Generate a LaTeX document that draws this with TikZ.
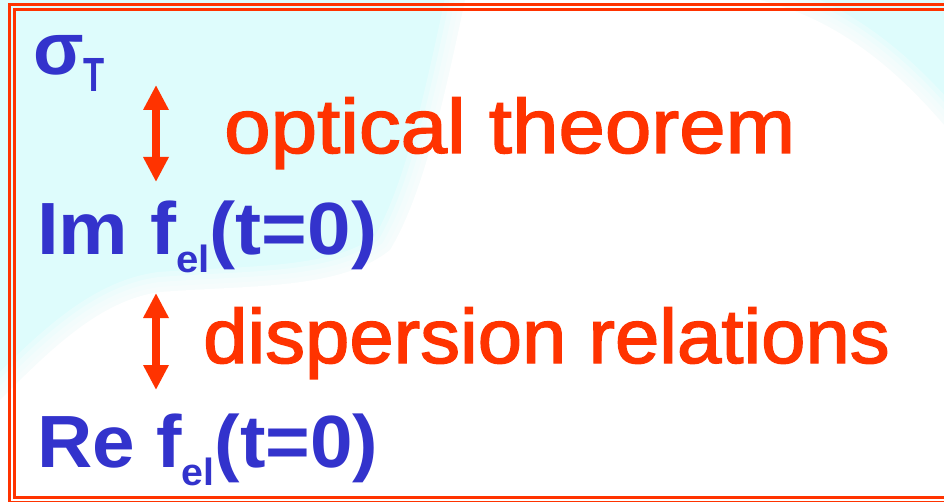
\documentclass[tikz,border=0pt]{standalone}
\usepackage{fontspec}
\setmainfont{Liberation Sans}
\newfontfamily\redfont{Liberation Sans}[FakeBold=1.8]
\usetikzlibrary{arrows.meta}
\definecolor{bluetxt}{RGB}{51,51,204}
\definecolor{redtxt}{RGB}{255,51,0}
\definecolor{sky}{RGB}{222,252,252}
\newcommand\lowsub[1]{\raisebox{-18pt}{\fontsize{38}{40}\selectfont #1}}
\begin{document}
\begin{tikzpicture}[x=1pt,y=-1pt,
  bluelabel/.style={anchor=base west, inner sep=0pt, text=bluetxt, font=\fontsize{74}{80}\selectfont\bfseries},
  redlabel/.style={anchor=base west, inner sep=0pt, text=redtxt, font=\redfont\fontsize{77}{84}\selectfont},
  dblarrow/.style={draw=redtxt, line width=8pt, {Triangle[width=24pt,length=25pt]}-{Triangle[width=24pt,length=25pt]}},
  frameline/.style={draw=redtxt, line width=3pt},
  cloudedge/.style={draw=white, line join=round, opacity=0.3}]
\useasboundingbox (0,0) rectangle (944,502);
\clip (0,0) rectangle (944,502);
% background
\fill[sky] (0,0) rectangle (944,502);
\def\cloudpath{(465,0) -- (760,0) .. controls (820,15) and (880,50) .. (944,125) -- (944,502) -- (0,502) -- (0,400) .. controls (50,350) and (100,300) .. (160,292) .. controls (250,285) and (340,290) .. (390,250) .. controls (420,200) and (440,120) .. (465,0) -- cycle}
\foreach \w in {40,30,20,10} {\path[cloudedge, line width=\w pt] \cloudpath;}
\fill[white] \cloudpath;
% frame
\draw[frameline] (9,5) rectangle (960,502.5);
\draw[frameline] (14,10) rectangle (955,497.5);
% texts
\node[bluelabel] (sigma) at (33,75) {σ\raisebox{-17pt}{\fontsize{48}{50}\selectfont\scalebox{0.72}[1]{T}}};
\node[bluelabel, xscale=1.057] (im) at (37,255) {Im f\lowsub{el}(t=0)};
\node[bluelabel, xscale=1.034] (re) at (37,467) {Re f\lowsub{el}(t=0)};
\node[redlabel, xscale=1.085] (opt) at (224,153) {optical theorem};
\node[redlabel, xscale=1.035] (disp) at (203,363) {dispersion relations};
% arrows
\coordinate (a1t) at (156,85);
\coordinate (a1b) at (156,182);
\coordinate (a2t) at (156,293);
\coordinate (a2b) at (156,390);
\draw[dblarrow] (a1t) -- (a1b);
\draw[dblarrow] (a2t) -- (a2b);
\end{tikzpicture}
\end{document}
